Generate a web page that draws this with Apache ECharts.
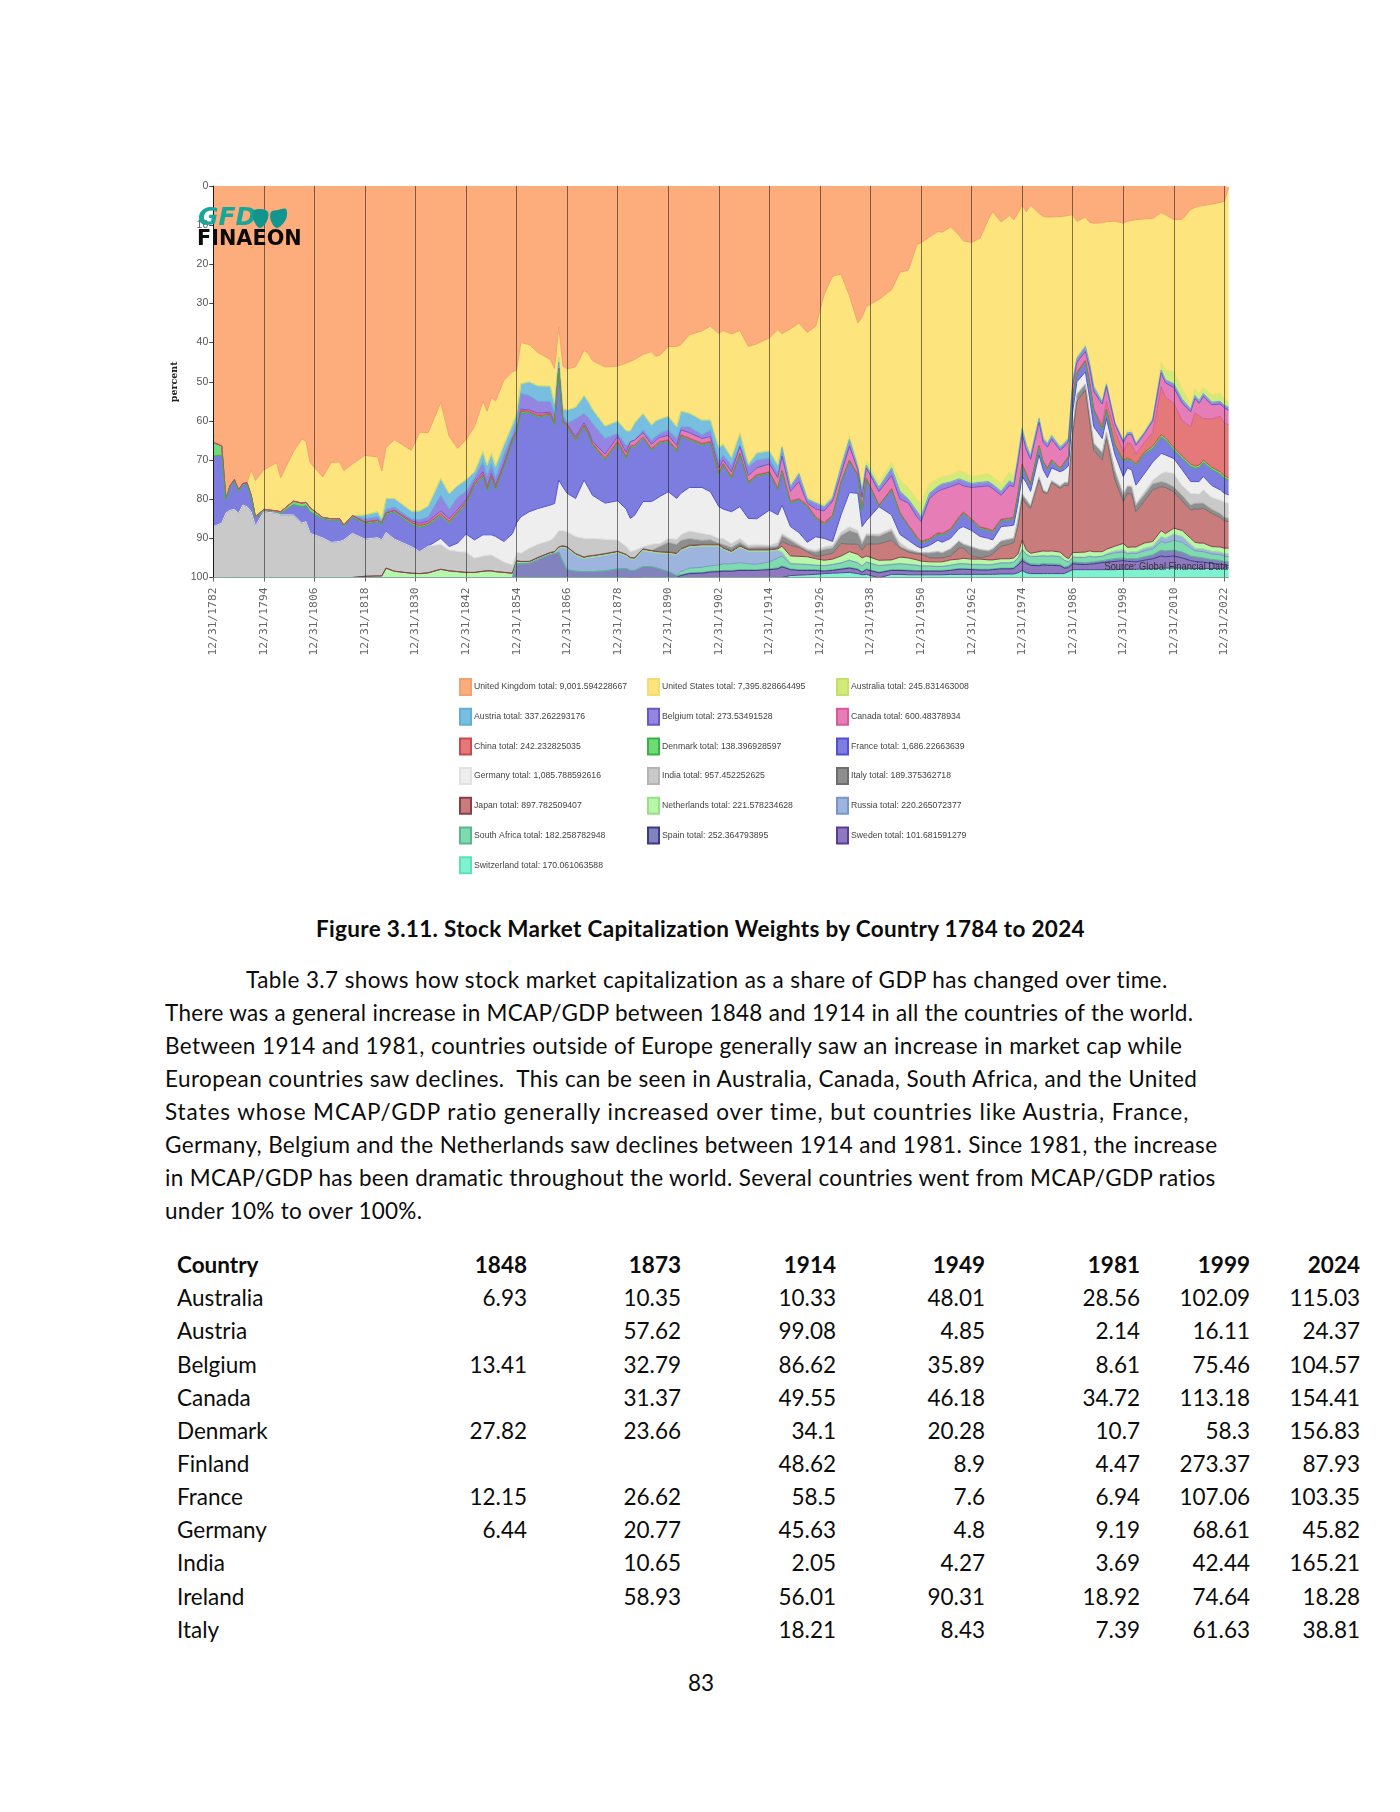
<!DOCTYPE html>
<html>
<head>
<meta charset="utf-8">
<title>Figure 3.11. Stock Market Capitalization Weights by Country 1784 to 2024</title>
<script src="https://cdn.jsdelivr.net/npm/echarts@6/dist/echarts.min.js"></script>
<style>
html,body{margin:0;padding:0;background:#fff;}
#page{position:relative;width:1400px;height:1812px;overflow:hidden;background:#fff;}
#chart{position:absolute;left:0;top:0;width:1400px;height:900px;filter:blur(0.45px);}
.t{position:absolute;white-space:pre;font-family:Lato,"Noto Sans",sans-serif;font-size:22.5px;color:#0c0c0c;line-height:26px;}
.b{font-weight:700;}
</style>
</head>
<body>
<div id="page"><div id="chart"></div></div>
<script>
// Sample dates (year-end)
const years = [
1782,1784,1785,1786,1787, 1788,1789,1790,1791,1792, 1794,1797,1798,1801,1803, 1804,1805,1808,1810,1812, 1813,1815,1818,1821,1822, 1823,1825,1829,1831,1833, 1836,1838,1840,1842,1844, 1846,1847,1848,1849,1851, 1853,
1854,1855,1857,1859,1862, 1863,1864,1865,1866,1868, 1870,1871,1872,1875,1878, 1880,1881,1882,1884,1886, 1887,1888,1890,1892,1893, 1895,1898,1900,1902,1903, 1905,1907,1909,1911,1914, 1916,1917,1919,1921,1923, 1925,1927,1929,1931,1933, 1935,1936,1937,1940,1943, 1945,1947,1949,
1950,1952,1954,1955,1957, 1959,1960,1962,1964,1966, 1967,1969,1971,1972,1973, 1974,1975,1976,1978,1979, 1980,1981,1983,1984,1985, 1986,1987,1989,1990,1991, 1993,1994,1996,1998,1999, 2000,2001,2003,2005,2007, 2008,2010,2012,2014,2015, 2016,2017,2019,2021,2022, 2023];

const tickLabels = ['12/31/1782','12/31/1794','12/31/1806','12/31/1818','12/31/1830','12/31/1842','12/31/1854','12/31/1866','12/31/1878','12/31/1890','12/31/1902','12/31/1914','12/31/1926','12/31/1938','12/31/1950','12/31/1962','12/31/1974','12/31/1986','12/31/1998','12/31/2010','12/31/2022'];

// Each list: where the band ends on the percent axis (bands stack down from 0)
const unitedKingdom = [
65.1,66.2,79.8,76.5,75, 77.6,76,75.8,72.5,75.2, 72.5,70.7,74.5,67.9,64.6, 65.2,70.7,74.3,70.6,70.5, 72.7,71,68.8,69.2,72.8, 66.8,64.8,67.5,62.9,63, 55.3,64,67,64.8,61.5, 55,57.5,54,54.9,49.6, 47.5,
47,40,40.5,42.5,44.3, 46.6,36,46,46.7,46.2, 42,42.8,44.6,46.2,46, 45.2,44.8,44.3,43,42.3, 43.5,43.2,41,41,40.5, 38,37,35.8,37.7,36.9, 37.8,36.9,41,40.3,38.8, 36.7,37.7,36.5,35,37.4, 35.8,27.7,23,22.5,28, 35,33.5,30.8,29,26.5, 22,21.5,15,
14.5,13,11.6,11.8,10.5, 12.5,14,14.4,13.3,8.5, 6.6,9.2,7.5,8.6,7, 4.8,6.6,4.9,7,7.8, 7.9,7.9,7.8,7.7,7.5, 7.3,9,7.9,9.3,9.5, 9.4,9.1,9,9.5,9, 8.8,8.6,8.4,8.3,6.8, 7.3,8.6,8.5,6,5.5, 5.1,5,4.6,4.2,3.9, 0.3];
const unitedStates = [
65.5,66.4,79.8,76.5,75, 77.6,76,75.8,79,84.5, 82.6,83,83.2,80.5,81, 80.8,82.2,84.7,85,85, 86.6,84.2,84,83.2,85, 79.8,79.8,83,83,81.7, 74.7,78.6,76.5,75,73, 67.8,71.3,68.3,71.6,66, 61,
58,50.5,50,51,51.1, 55.6,43.7,56.9,57.2,56.5, 53.5,55,57,61.3,60, 62.5,62.5,60.5,58.1,61, 60,59.5,58.8,61.5,57.5, 58,59.8,59.5,66.5,65.7, 69.1,62.8,70.8,67.9,67.4, 71,66.2,76.4,73,79.4, 80.5,81.3,79,71,63.5, 70.5,77,70,75.5,70.5, 75,77,80,
81,76,74.7,74.2,73.8, 72.7,73,74.2,73.8,73.4, 74.2,76,73,74.2,68.3, 61.5,65.7,68.3,58.9,64, 65.3,63.2,66.2,65.3,64, 49.6,43.6,40.2,44.9,50.8, 54.7,50,59.8,64.5,62.3, 62.3,65.3,62.3,58.9,44.9, 47,47.4,51.7,55.5,51.7, 53,51.3,53.4,53,54.2, 55.1];
const australia = [
65.5,66.4,79.8,76.5,75, 77.6,76,75.8,79,84.5, 82.6,83,83.2,80.5,81, 80.8,82.2,84.7,85,85, 86.6,84.2,84,83.2,85, 79.8,79.8,83,83,81.7, 74.7,78.6,76.5,75,73, 67.8,71.3,68.3,71.6,66, 61,
58,50.5,50,51,51.1, 55.6,43.7,56.9,57.2,56.5, 53.5,55,57,61.3,60, 62.5,62.5,60.5,58.1,61, 60,59.5,58.8,61.5,57.5, 58,59.8,59.8,66.8,66, 69.4,63.2,71.1,68.2,67.7, 71.3,66.6,76.8,73.5,80, 81,81.9,79.7,71.8,64.7, 71.8,78,71.3,77,72, 78,80,83,
84.5,78.5,76.7,76.1,75.6, 74.8,75.2,76,75.7,75.5, 76.2,78,75.3,76,69.5, 62,66.3,68.9,59.4,64.5, 65.8,63.8,66.7,65.8,64.5, 50,44,41,45.4,51.3, 55.2,50.6,60.4,65.1,63, 63,65.8,63,59.6,47, 49.5,50.5,54.5,57,53.5, 54.8,53,55.2,55,56, 56.5];
const austria = [
65.5,66.4,79.8,76.5,75, 77.6,76,75.8,79,84.5, 82.6,83,83.2,80.5,81, 80.8,82.2,84.7,85,85, 86.6,84.2,85,84.5,85.8, 82.6,82,85,85.2,84.5, 79,82.5,79.5,78,74.5, 70.5,74,71,74.5,68.5, 63.5,
60,53,53.5,55,55, 58,45,58.5,60.6,59.5, 58.1,59.1,60.6,64.5,63.2, 66.2,65.3,64.9,62.3,64.9, 64,63.2,62.3,64.5,61.5, 61.5,63.6,62.3,70.4,68.7, 71.3,66.2,71.7,70,69.6, 73.4,66.8,76.8,73.5,80, 81,81.9,79.7,71.8,64.7, 71.8,78,71.3,77,72, 78,80,83,
84.5,78.5,76.7,76.1,75.6, 74.8,75.2,76,75.7,75.5, 76.2,78,75.3,76,69.5, 62,66.3,68.9,59.4,64.5, 65.8,63.8,66.7,65.8,64.5, 50,44,41,45.4,51.3, 55.2,50.6,60.4,65.1,63, 63,65.8,63,59.6,47, 49.5,50.5,54.5,57,53.5, 54.8,53,55.2,55,56, 56.5];
const belgium = [
65.5,66.4,79.8,76.5,75, 77.6,76,75.8,79,84.5, 82.6,83,83.2,80.5,81, 80.8,82.2,84.7,85,85, 86.6,84.2,85.9,85.4,86.1, 83.5,82.9,85.5,86.2,85.6, 83,85,82.6,80.2,75.6, 73,76.8,73.4,76.4,70.8, 64.5,
62.5,57,57.2,58,57.8, 60.5,46.5,60,60.8,64, 60.5,62.5,65.2,68.5,64, 68,65,64.3,63,66, 65,64.2,63.7,66.3,62.3, 63,64.5,64,72,70, 73,66.5,74,72,71, 74.5,69,78,75.5,81, 82.5,83,80.5,73.5,66.5, 72.5,79.5,72,78,74, 80,81,84.5,
85.7,79.8,78,77.5,76.8, 76,76.6,77,76.8,76.6, 77.3,79,76.5,76.8,70.5, 63.3,67.5,69.8,60.3,65.5, 66.7,64.7,67.5,66.6,65.3, 51,45,42.3,46.5,52.5, 55.7,51.2,60.8,65.5,63.5, 63.5,66.2,63.3,60,47.7, 50.3,51.5,55.5,57.7,54.3, 55.5,53.8,55.9,55.7,56.7, 57.3];
const canada = [
65.5,66.4,79.8,76.5,75, 77.6,76,75.8,79,84.5, 82.6,83,83.2,80.5,81, 80.8,82.2,84.7,85,85, 86.6,84.2,85.9,85.4,86.1, 83.5,82.9,85.8,86.6,86, 83.6,85.6,83.1,80.6,76.1, 73.5,77.3,73.9,76.9,71.3, 64.8,
62.7,57.3,57.4,58.4,58, 60.7,46.7,60.2,61,64.5, 61,63,65.7,69.3,65, 69,66,65.5,64,67, 66,65.2,64.8,67.3,63.5, 64.3,65.7,65.2,73.2,70.8, 74.2,68.2,75.5,73.7,73, 77.2,72.6,80.5,79.8,81.5, 84.5,86,84,75.5,70, 73.8,82.6,74.6,81.5,77.3, 83.4,86.5,89.5,
90.7,90,88.5,88.7,87.5, 84.5,83.2,85,87,87.5, 88,85,84.8,84.5,78.5, 71,73.5,76,66.2,70.3, 72,69.8,72,70.5,69, 53.6,47.5,44.5,50,57, 61,55,62.5,68,65.6, 66,68.5,65.5,63,51.3, 54,55.5,60,61.5,58, 58.7,59.4,59.5,58.8,60.5, 61];
const china = [
65.5,66.4,79.8,76.5,75, 77.6,76,75.8,79,84.5, 82.6,83,83.2,80.5,81, 80.8,82.2,84.7,85,85, 86.6,84.2,85.9,85.4,86.1, 83.5,82.9,86,86.8,86.2, 83.8,85.8,83.3,80.8,76.3, 73.7,77.5,74.1,77.1,71.5, 65,
62.8,57.6,57.7,58.7,58.3, 60.8,46.8,60.4,61.2,64.7, 61.2,63.2,65.9,69.7,65.4, 69.3,66.2,65.7,64.2,67.2, 66.3,65.4,65,67.6,63.7, 64.6,65.9,65.4,73.5,71, 74.4,68.4,75.7,73.9,73.1, 77.3,72.8,80.7,80,81.6, 84.7,86.2,84.2,75.7,70.1, 73.9,82.7,74.7,81.6,77.4, 83.6,86.8,89.7,
90.9,90.2,88.7,88.9,87.7, 84.7,83.4,85.2,87.2,87.7, 88.2,85.2,85,84.7,78.7, 71.2,73.7,76.2,66.4,70.5, 72.2,70,72.2,70.7,69.2, 53.8,47.7,44.7,50.2,57.2, 62,57,66,70,69.5, 70,71,68,66.4,63.5, 64.3,66.8,69,71,71.5, 71.3,70,71.8,73,74, 74.5];
const denmark = [
69,68.7,80.2,76.9,75.4, 78,76.4,76.2,79.4,84.9, 83,83.4,83.6,81.4,81.9, 81.7,83.2,85.1,85.4,85.4, 87,84.6,86.3,85.8,86.5, 83.9,83.3,86.4,87.2,86.6, 84.2,86.2,83.7,81.2,76.7, 74.1,77.9,74.5,77.5,71.9, 65.4,
63,58,58,59,58.6, 61.1,47,60.7,61.5,65, 61.5,63.5,66.2,70,65.7, 69.6,66.5,66,64.5,67.5, 66.6,65.7,65.3,67.9,64, 64.9,66.2,65.7,73.8,71.3, 74.7,68.7,76,74.2,73.4, 77.6,73,81,80.2,81.9, 85,86.5,84.5,76,70.4, 74.2,83,75,81.9,77.7, 83.8,87,90,
91.2,90.5,89,89.2,88, 85,83.7,85.5,87.5,88, 88.5,85.5,85.3,85,79, 71.5,74,76.5,66.7,70.8, 72.5,70.3,72.5,71,69.5, 54,48,45,50.5,57.5, 62.3,57.3,66.3,70.3,69.8, 70.3,71.3,68.4,67,64.1, 64.9,67.4,69.6,71.6,72.1, 71.9,70.6,72.4,73.6,74.6, 75.1];
const france = [
87,86.1,83.5,82.8,82.6, 83.6,81.5,81.9,83.2,86.8, 83.2,83.6,84,84,86.1, 85.7,88.7,89.9,91,90.8, 90.4,88.7,90.2,89.8,90.4, 88.5,90.2,92.1,93.4,92, 90,92.1,91.2,88.9,90.4, 89.1,89.1,89.1,89.5,90.8, 88.8,
86,84.5,83.2,82.4,81.5, 81.1,75.1,76.9,78.5,79.8, 75.1,77,79,81,80.4, 82.5,84.6,83.5,80.6,80.6, 80,79.3,78.1,79.8,78.5, 77,77,78.1,81.9,82.5, 83.2,81.9,84.9,85,82.8, 84,81.5,87,88.5,91, 89.6,90,90.8,84,78.3, 78.5,87,85.5,81,84, 89,90.5,92,
92.5,91.8,90.5,91,90, 87.5,87,88,89.5,90, 90.4,87,86.8,86.6,81, 74.2,75.8,78,68.7,72.5, 74.5,72,73,72.5,71.5, 57.5,50,47.5,54,61.5, 64.5,59.4,68.5,74.2,72, 72.5,76.4,73.5,70.5,68.3, 68.7,69.6,72.5,75.5,75.5, 75.5,74.2,76.5,77.6,78.5, 78.9];
const germany = [
87,86.1,83.5,82.8,82.6, 83.6,81.5,81.9,83.2,86.8, 83.2,83.6,84,84,86.1, 85.7,88.7,89.9,91,90.8, 90.4,88.7,90.2,89.8,90.4, 88.5,90.2,92.1,93.4,92, 91.5,93,93.3,93.5,95, 94.5,94.3,94.2,94.8,96, 96.8,
93.5,93.8,92.5,91.5,90.5, 89.5,88,88,88.3,89.5, 90,90,90,90.2,90.4, 92,93,92.5,92.1,91.5, 91.3,91.3,90,90.2,89, 88.1,88.7,89.1,90,90, 91.3,90,91.7,91.5,91.7, 91,88.7,90,91.3,92.5, 93,92.1,91.7,88.3,87, 87.9,90.8,88.7,87.9,87.4, 91,92.5,93.3,
93.6,93.5,93.2,93.5,92.5, 90.5,91.3,92,92.7,93, 92.5,90.5,90,89.8,85, 78.5,80,81.5,74.2,77.5, 78.1,75.1,76.5,75.6,75.5, 61.9,53,50.4,58,65.5, 67.9,62.8,72.5,78.5,76.4, 76.5,81,78,75.1,73.4, 73,73.4,76.5,78.5,78.5, 78.7,77.6,79.5,80.2,80.7, 81];
const india = [
100,100,100,100,100, 100,100,100,100,100, 100,100,100,100,100, 100,100,100,100,100, 100,100,99.7,99.6,99.6, 97.6,98.4,98.9,99,98.8, 97.9,98.3,98.5,98.7,98.7, 98.4,98.3,98.3,98.5,98.7, 98.9,
95.6,95.8,95.8,94.8,93.5, 93.3,92.1,91.8,92.1,93.8, 94.7,94.4,94.3,93.8,93.2, 94,94.5,94.3,92.6,93, 92.5,92,91,91.5,90.5, 90,90.5,90.3,91.2,91.5, 92.3,91,92.3,92.2,92.2, 91.9,89.3,90.5,91.8,93, 93.5,92.8,92.4,89.2,88, 88.7,91.3,89.2,88.5,88, 92,93,93.5,
93.7,93.7,93.4,93.7,92.7, 90.7,91.5,92.2,92.9,93.2, 92.7,90.7,90.2,90,85.2, 78.7,80.2,81.7,74.4,77.7, 78.3,75.3,76.7,75.8,75.7, 62.1,53.2,50.6,58.2,65.7, 68.1,63,72.7,78.9,76.7, 76.9,81.5,78.8,76,75.5, 75.7,76.8,79,81.5,81, 81,81,82.5,83.6,84.5, 84.9];
const italy = [
100,100,100,100,100, 100,100,100,100,100, 100,100,100,100,100, 100,100,100,100,100, 100,100,99.7,99.6,99.6, 97.6,98.4,98.9,99,98.8, 97.9,98.3,98.5,98.7,98.7, 98.4,98.3,98.3,98.5,98.7, 98.9,
95.7,95.9,95.9,94.9,93.6, 93.4,92.2,91.9,92.2,93.9, 94.8,94.5,94.4,93.9,93.3, 94.1,94.6,94.4,92.7,93.1, 93.2,93.4,93.4,93.7,92.6, 91.7,91.5,91.5,91.5,92.3, 93.2,91.8,92.8,92.8,92.8, 92.5,90.8,91.8,92.3,93.5, 94.6,94.3,93.8,91.3,91.5, 91.5,93,91.5,90.5,90.5, 92.5,93.5,94,
94,95,95,95,94.5, 92.5,92.5,94.5,95,94.5, 94,92,91.5,91.1,87, 79.8,81.3,82.3,75,78.3, 78.5,75.8,77.3,76.5,76.5, 63.2,55,52.1,60,67.5, 70,64.5,75,80.6,78.5, 78.7,83.2,80.5,77.6,76.8, 77,78.1,80.5,82.8,82.5, 82.6,82.3,83.6,84.7,85.5, 85.7];
const japan = [
100,100,100,100,100, 100,100,100,100,100, 100,100,100,100,100, 100,100,100,100,100, 100,100,99.7,99.6,99.6, 97.6,98.4,98.9,99,98.8, 97.9,98.3,98.5,98.7,98.7, 98.4,98.3,98.3,98.5,98.7, 98.9,
95.8,96,96,95,93.7, 93.5,92.3,92,92.3,94, 94.9,94.6,94.5,94,93.4, 94.2,94.7,94.5,92.8,93.2, 93.4,93.5,93.6,93.9,92.8, 91.9,91.7,91.7,91.7,92.5, 93.4,92,93,93,93, 92.7,92,94.5,94.6,94.7, 95.2,95.6,95.3,94.5,93.4, 94.1,95,94.5,94.7,95.5, 94.8,95,95.5,
95.8,96,96,96,95.5, 95.3,95.1,95.3,95.3,95.5, 95.5,95.2,95.2,95,94, 90.4,93,93.8,93.4,93.2, 93.3,93.2,93.5,94.5,95.2, 93.6,93.6,93.5,93.2,93.4, 93.4,92.8,92,91.3,92.3, 92.2,92.2,91.2,90.8,88, 88.8,87.4,88,90,91, 91.2,91.2,92.1,92.2,92.5, 92.5];
const netherlands = [
100,100,100,100,100, 100,100,100,100,100, 100,100,100,100,100, 100,100,100,100,100, 100,100,100,100,100, 100,100,100,100,100, 100,100,100,100,100, 100,100,100,100,100, 100,
96.1,96.3,96.3,95.3,94, 93.8,92.6,92.3,92.6,94.3, 95.2,94.9,94.8,94.3,93.7, 94.5,95,94.8,93.1,93.5, 93.7,93.8,93.9,94.2,93.1, 92.2,92,92,92,92.8, 93.7,92.3,93.3,93.3,93.3, 93,93.5,96.3,96.5,96.6, 96.8,96.9,96.6,96.2,95.5, 96.2,97,96,96,96.6, 96.4,96.6,96.8,
97,97,97.1,97.1,96.8, 96.4,96.4,96.6,96.6,96.7, 96.6,96.2,96.2,96,95, 92.8,94,94.6,94.5,94.4, 94.5,94.4,94.6,95.5,96, 94.7,94.8,94.8,94.5,94.7, 94.5,93.9,93.2,92.9,93.6, 93.4,93.5,92.5,92,89.5, 90,88.9,89.5,91.5,92.5, 92.6,92.7,93.3,93.5,93.9, 94];
const russia = [
100,100,100,100,100, 100,100,100,100,100, 100,100,100,100,100, 100,100,100,100,100, 100,100,100,100,100, 100,100,100,100,100, 100,100,100,100,100, 100,100,100,100,100, 100,
96.5,96.5,96.4,95.4,94.1, 93.9,93.5,96,98,98.4, 98.5,98.5,98.5,98.3,97.8, 97.7,97.9,97.6,97.2,97.2, 97.5,97.8,98.5,99.5,98.5, 97.6,97.4,97,96.8,96.5, 96.5,96.2,96.5,96.6,96, 95,94.5,96.5,96.6,96.7, 96.9,97,96.7,96.3,95.6, 96.3,97.1,96.1,96.1,96.7, 96.5,96.7,96.9,
97.1,97.1,97.2,97.2,96.9, 96.5,96.5,96.7,96.7,96.8, 96.7,96.3,96.3,96.1,95.1, 92.9,94.1,94.7,94.6,94.5, 94.6,94.5,94.7,95.6,96.1, 94.8,94.9,94.9,94.6,94.8, 94.6,94.2,93.7,93.5,94, 93.8,93.9,93.2,92.7,90.8, 91.2,90.5,91,92.5,93.2, 93.3,93.4,94,94.2,94.6, 94.7];
const southAfrica = [
100,100,100,100,100, 100,100,100,100,100, 100,100,100,100,100, 100,100,100,100,100, 100,100,100,100,100, 100,100,100,100,100, 100,100,100,100,100, 100,100,100,100,100, 100,
96.5,96.5,96.4,95.4,94.1, 93.9,93.5,96,98,98.4, 98.5,98.5,98.5,98.3,97.8, 97.7,97.9,97.6,97.2,97.2, 97.5,97.8,98.5,99.5,99.3, 98.8,98.7,98.4,98.3,98.2, 98.2,98,98,98,97.8, 97.5,97,97.8,98,98, 98,98.2,98,97.7,97.4, 97.8,98.5,97.8,97.7,98, 98,98.1,98.2,
98.2,98.2,98.2,98.2,98, 97.7,97.7,97.8,97.9,97.9, 97.8,97.6,97.6,97.5,96.5, 95,96,96.5,96.6,96.4, 96.5,96.5,96.6,97.3,97, 96,96.1,96.2,96.1,96, 95.7,95.5,95.2,95,95.2, 95.1,95.2,94.7,94.2,93, 93.2,93,93.5,94.5,94.7, 94.8,95,95.4,95.6,95.9, 96];
const spain = [
100,100,100,100,100, 100,100,100,100,100, 100,100,100,100,100, 100,100,100,100,100, 100,100,100,100,100, 100,100,100,100,100, 100,100,100,100,100, 100,100,100,100,100, 100,
100,100,100,100,100, 100,100,100,100,100, 100,100,100,100,100, 100,100,100,100,100, 100,100,100,100,99.5, 99,98.9,98.6,98.5,98.4, 98.4,98.2,98.2,98.2,98, 97.8,97.3,98,98.2,98.2, 98.2,98.4,98.2,97.9,97.6, 98,98.7,98,97.9,98.2, 98.2,98.3,98.4,
98.4,98.4,98.4,98.4,98.2, 97.9,97.9,98,98.1,98.1, 98,97.8,97.8,97.7,96.8, 95.8,96.4,96.9,97,96.8, 96.9,96.9,97,97.6,97.5, 96.5,96.6,96.7,96.6,96.5, 96.2,96.1,95.9,95.7,95.9, 95.9,96,95.6,95.2,94.5, 94.7,94.5,95,95.7,95.9, 96,96.1,96.4,96.6,96.8, 96.9];
const sweden = [
100,100,100,100,100, 100,100,100,100,100, 100,100,100,100,100, 100,100,100,100,100, 100,100,100,100,100, 100,100,100,100,100, 100,100,100,100,100, 100,100,100,100,100, 100,
100,100,100,100,100, 100,100,100,100,100, 100,100,100,100,100, 100,100,100,100,100, 100,100,100,100,100, 100,100,100,100,100, 100,100,100,100,100, 100,100,99.5,99.4,99.3, 99.2,99,98.9,98.8,98.7, 99,99.3,99.2,99.2,99.2, 99.2,99.3,99.3,
99.3,99.3,99.3,99.3,99.2, 99.2,99.2,99.2,99.2,99.2, 99.2,99.1,99.1,99.1,98.8, 98.2,98.8,99,99,99, 99,99,99,99,98.5, 98,98,98,98,98, 98,98,98,97.9,97.9, 97.9,97.9,97.8,97.8,97.6, 97.6,97.6,97.6,97.7,97.7, 97.7,97.7,97.7,97.7,97.6, 97.6];
const switzerland = years.map(() => 100);

const seriesNames = ['United Kingdom','United States','Australia','Austria','Belgium','Canada','China','Denmark','France','Germany','India','Italy','Japan','Netherlands','Russia','South Africa','Spain','Sweden','Switzerland'];
const bandEnds = [unitedKingdom,unitedStates,australia,austria,belgium,canada,china,denmark,france,germany,india,italy,japan,netherlands,russia,southAfrica,spain,sweden,switzerland];
const legendTotals = ['9,001.594228667','7,395.828664495','245.831463008','337.262293176','273.53491528','600.48378934','242.232825035','138.396928597','1,686.22663639','1,085.788592616','957.452252625','189.375362718','897.782509407','221.578234628','220.265072377','182.258782948','252.364793895','101.681591279','170.061063588'];
const fillColors = ['#FDAC7B','#FDE47D','#D2EA78','#78BEE0','#9585E3','#E67DB6','#E57878','#6EDC72','#7D7DE0','#EEEEEE','#C9C9C9','#8E8E8E','#C87C7C','#B6F7A8','#9DB5DE','#7FDBAF','#8282BE','#8E78BE','#7FF2D0'];
const lineColors = ['#F4A070','#F5DC70','#C4E06A','#5FAFD8','#6A58C8','#D85A9C','#C84A4A','#3CB048','#5050D0','#E2E2E2','#B4B4B4','#6E6E6E','#8C3C4A','#98E088','#7A96C8','#58B88C','#3A3A8C','#5A3C96','#60E0B8'];

const legendColumns = [
  ['United Kingdom','Austria','China','Germany','Japan','South Africa','Switzerland'],
  ['United States','Belgium','Denmark','India','Netherlands','Spain'],
  ['Australia','Canada','France','Italy','Russia','Sweden']
];

// Text below the chart
const caption = 'Figure 3.11. Stock Market Capitalization Weights by Country 1784 to 2024';
const paragraph = [
 'Table 3.7 shows how stock market capitalization as a share of GDP has changed over time.',
 'There was a general increase in MCAP/GDP between 1848 and 1914 in all the countries of the world.',
 'Between 1914 and 1981, countries outside of Europe generally saw an increase in market cap while',
 'European countries saw declines.  This can be seen in Australia, Canada, South Africa, and the United',
 'States whose MCAP/GDP ratio generally increased over time, but countries like Austria, France,',
 'Germany, Belgium and the Netherlands saw declines between 1914 and 1981. Since 1981, the increase',
 'in MCAP/GDP has been dramatic throughout the world. Several countries went from MCAP/GDP ratios',
 'under 10% to over 100%.'];
const tableHeader = ['Country','1848','1873','1914','1949','1981','1999','2024'];
const tableCountries = ['Australia','Austria','Belgium','Canada','Denmark','Finland','France','Germany','India','Ireland','Italy'];
const col1848 = ['6.93','','13.41','','27.82','','12.15','6.44','','',''];
const col1873 = ['10.35','57.62','32.79','31.37','23.66','','26.62','20.77','10.65','58.93',''];
const col1914 = ['10.33','99.08','86.62','49.55','34.1','48.62','58.5','45.63','2.05','56.01','18.21'];
const col1949 = ['48.01','4.85','35.89','46.18','20.28','8.9','7.6','4.8','4.27','90.31','8.43'];
const col1981 = ['28.56','2.14','8.61','34.72','10.7','4.47','6.94','9.19','3.69','18.92','7.39'];
const col1999 = ['102.09','16.11','75.46','113.18','58.3','273.37','107.06','68.61','42.44','74.64','61.63'];
const col2024 = ['115.03','24.37','104.57','154.41','156.83','87.93','103.35','45.82','165.21','18.28','38.81'];

// ---- chart ----
bandEnds.forEach((b, i) => { if (b.length !== years.length) console.error(seriesNames[i], b.length, years.length); });
const firstYear = 1782, lastYear = 2023;
const axisYears = [];
for (let y = firstYear; y <= lastYear; y++) axisYears.push(String(y));
const series = seriesNames.map((name, s) => ({
  name, type: 'line', stack: 'weights', showSymbol: false, symbol: 'none', silent: true,
  areaStyle: {color: fillColors[s], opacity: 1},
  itemStyle: {color: fillColors[s], borderColor: lineColors[s], borderWidth: 1},
  lineStyle: {color: lineColors[s], width: 1},
  data: years.map((y, i) => [String(y), +Math.max(0, bandEnds[s][i] - (s ? bandEnds[s - 1][i] : 0)).toFixed(2)])
}));
const totalOf = {}; seriesNames.forEach((n, i) => totalOf[n] = legendTotals[i]);
const legendBase = {
  orient: 'vertical', selectedMode: false, top: 678, icon: 'rect', itemWidth: 11, itemHeight: 16, itemGap: 11.7,
  padding: 0, textStyle: {fontFamily: 'Liberation Sans', fontSize: 8.7, color: '#444', padding: [0, 0, 0, -2]},
  formatter: n => n + ' total: ' + totalOf[n]
};
const chart = echarts.init(document.getElementById('chart'), null, {renderer: 'canvas'});
chart.setOption({
  animation: false,
  backgroundColor: '#fff',
  grid: {left: 213.3, top: 186, width: 1015.3, height: 391.5, containLabel: false},
  xAxis: {
    type: 'category', data: axisYears, boundaryGap: false, z: 5, position: 'bottom',
    axisLine: {show: true, onZero: false, lineStyle: {color: 'rgba(150,150,150,.7)', width: 1}},
    axisTick: {show: true, length: 4, interval: 11, lineStyle: {color: '#666'}},
    axisLabel: {rotate: 90, margin: 10, interval: 11, fontFamily: 'DejaVu Sans Mono', fontSize: 11.3, color: '#666',
      formatter: (v, i) => tickLabels[axisYears.indexOf(v) / 12] || ''},
    splitLine: {show: true, interval: 11, lineStyle: {color: 'rgba(20,20,20,.55)', width: 1}}
  },
  yAxis: {
    type: 'value', inverse: true, min: 0, max: 100, interval: 10, z: 4,
    name: 'percent', nameLocation: 'middle', nameGap: 28, nameRotate: 90,
    nameTextStyle: {fontFamily: 'DejaVu Serif', fontWeight: 'bold', fontSize: 9.5, color: '#222'},
    axisLine: {show: true, lineStyle: {color: '#222', width: 1}},
    axisTick: {show: true, length: 4, lineStyle: {color: '#444'}},
    axisLabel: {fontFamily: 'Liberation Sans', fontSize: 10.5, color: '#555', margin: 5},
    splitLine: {show: false}
  },
  legend: [
    Object.assign({}, legendBase, {left: 459, data: legendColumns[0]}),
    Object.assign({}, legendBase, {left: 647, data: legendColumns[1]}),
    Object.assign({}, legendBase, {left: 836, data: legendColumns[2]})
  ],
  series,
  graphic: {elements: [
    {type: 'text', z: 100, x: 198, y: 206, style: {text: 'GFD', fontFamily: 'DejaVu Sans', fontWeight: 'bold', fontStyle: 'italic', fontSize: 25, fill: '#17A79A'}},
    {type: 'polygon', z: 100, x: 253, y: 209, shape: {points: [[0, 2], [8, 0], [15, 3], [14, 12], [7, 19], [1, 12]], smooth: 0.35}, style: {fill: '#12958F'}},
    {type: 'polygon', z: 100, x: 270, y: 209, shape: {points: [[16, 0], [16, 10], [7, 19], [1, 12], [1, 3], [8, 1]], smooth: 0.35}, style: {fill: '#12958F'}},
    {type: 'text', z: 100, x: 197, y: 229, style: {text: 'FINAEON', fontFamily: 'DejaVu Sans', fontWeight: 'bold', fontSize: 20.8, fill: '#0b0b0b'}},
    {type: 'text', z: 100, x: 1228, y: 561, scaleY: 1.25, style: {text: 'Source: Global Financial Data', align: 'right', fontFamily: 'Liberation Sans', fontSize: 9.3, fill: '#333'}}
  ]}
});

// ---- text ----
const page = document.getElementById('page');
function put(text, cls, opts) {
  const d = document.createElement('div');
  d.className = 't ' + cls; d.textContent = text;
  page.appendChild(d);
  d.style.top = (opts.cy - 13) + 'px';
  if (opts.right != null) { d.style.right = (1400 - opts.right) + 'px'; return d; }
  d.style.left = opts.left + 'px';
  if (opts.to != null) {
    const w = d.getBoundingClientRect().width;
    d.style.letterSpacing = ((opts.to - opts.left - w) / (text.length - 1)).toFixed(3) + 'px';
  }
  return d;
}
put(caption, 'b', {left: 316, to: 1085, cy: 929});
const paraLeft = [246,165,165,165,165,165,165,165];
const paraRight = [1168,1193,1182,1197,1189,1217,1216,422];
const paraY = [979.5,1013,1046,1079,1112,1145,1178,1211];
paragraph.forEach((l, i) => put(l, '', {left: paraLeft[i], to: paraRight[i], cy: paraY[i]}));
const colRight = [527,681,836,985,1140,1250,1360];
const rowY = [1298,1331,1364.5,1397.5,1430.5,1464,1496.5,1530,1563,1596.5,1630];
tableHeader.forEach((h, i) => i === 0 ? put(h, 'b', {left: 177, cy: 1265}) : put(h, 'b', {right: colRight[i - 1], cy: 1265}));
tableCountries.forEach((c, r) => put(c, '', {left: 177, cy: rowY[r]}));
[col1848,col1873,col1914,col1949,col1981,col1999,col2024].forEach((col, c) => col.forEach((v, r) => { if (v) put(v, '', {right: colRight[c], cy: rowY[r]}); }));
put('83', '', {left: 688, cy: 1683});
</script>
</body>
</html>
